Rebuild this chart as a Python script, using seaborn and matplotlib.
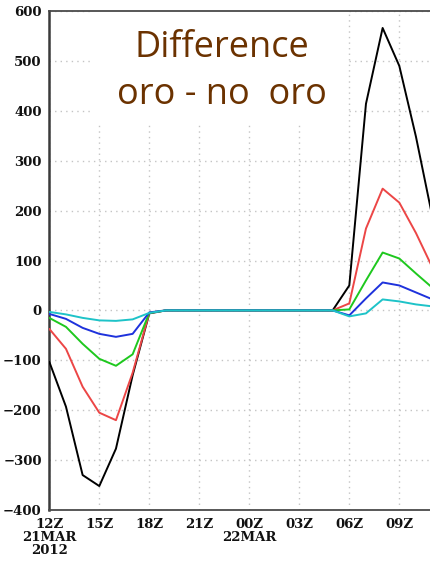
import numpy as np
import pandas as pd
import matplotlib
matplotlib.use("Agg")
import matplotlib.pyplot as plt
from matplotlib.patches import Rectangle
import seaborn as sns

# Hourly forecast times, hours after 12Z 21MAR2012
hours = list(range(24))

# Differences (oro - no oro) for the five series
black = [-103, -193, -330, -352, -277, -130, -6, 0, 0, 0, 0, 0, 0, 0, 0, 0, 0, 0,
         50, 414, 566, 490, 348, 185]
red = [-37, -77, -153, -205, -220, -125, -5, 0, 0, 0, 0, 0, 0, 0, 0, 0, 0, 0,
       14, 164, 244, 216, 155, 85]
green = [-15, -33, -67, -97, -111, -88, -5, 0, 0, 0, 0, 0, 0, 0, 0, 0, 0, 0,
         2, 60, 116, 104, 74, 45]
blue = [-7, -17, -35, -47, -53, -47, -4, 0, 0, 0, 0, 0, 0, 0, 0, 0, 0, 0,
        -10, 24, 56, 50, 36, 22]
cyan = [-3, -8, -15, -20, -21, -18, -5, 0, 0, 0, 0, 0, 0, 0, 0, 0, 0, 0,
        -12, -6, 22, 18, 12, 8]

series_names = ["black", "red", "green", "blue", "cyan"]
series_values = [black, red, green, blue, cyan]
series_colors = ["#000000", "#ec4646", "#1ec81e", "#1e32dc", "#1ec3c8"]

tick_hours = [0, 3, 6, 9, 12, 15, 18, 21]
tick_labels = ["12Z\n21MAR\n2012", "15Z", "18Z", "21Z", "00Z\n22MAR", "03Z", "06Z", "09Z"]
y_ticks = list(range(-400, 601, 100))

df = pd.concat(
    [pd.DataFrame({"hour": hours, "diff": v, "series": n})
     for n, v in zip(series_names, series_values)],
    ignore_index=True,
)

sns.set_style("white")

fig = plt.figure(figsize=(4.30, 5.61), dpi=100)
ax = fig.add_axes([49.3 / 430, 51 / 561, 1 - 49.3 / 430, 499 / 561])
ax.set_axisbelow(True)

sns.lineplot(data=df, x="hour", y="diff", hue="series", hue_order=series_names,
             palette=series_colors, linewidth=1.4, legend=False, ax=ax,
             zorder=3)

ax.set_xlim(0, (430 - 49.3) / (50 / 3))
ax.set_ylim(-400, 600)
ax.set_xlabel("")
ax.set_ylabel("")

ax.set_yticks(y_ticks)
ax.set_xticks(tick_hours)
ax.set_xticklabels(tick_labels)

# Dotted grid
ax.grid(True, color="#c4c4c4", linestyle=(0, (1, 3)), linewidth=1.0)

# Frame
for side in ["top", "bottom"]:
    ax.spines[side].set_color("#4a4a4a")
    ax.spines[side].set_linestyle((0, (4, 1)))
    ax.spines[side].set_linewidth(1.3)
ax.spines["left"].set_color("#3a3a3a")
ax.spines["left"].set_linewidth(1.8)
ax.spines["right"].set_visible(False)

ax.tick_params(axis="both", direction="out", length=4, width=1.2, color="#333333",
               pad=1.5, labelcolor="#111111")
for lbl in ax.get_yticklabels() + ax.get_xticklabels():
    lbl.set_fontfamily("DejaVu Serif")
    lbl.set_fontweight("bold")
    lbl.set_fontsize(9.5)
    lbl.set_linespacing(1.0)

# White panel holding the title
ax.add_patch(Rectangle((2.44, 376), 15.5, 224, facecolor="white",
                       edgecolor="none", zorder=1))

title_x = (222 - 49.3) / (50 / 3)
title_kw = dict(ha="center", va="baseline", color="#6b3200", fontsize=26,
                family="Open Sans", zorder=4)
ax.text(title_x, 507, "Difference", **title_kw)
ax.text(title_x, 413, "oro - no  oro", **title_kw)

fig.savefig("out.png", dpi=100)
